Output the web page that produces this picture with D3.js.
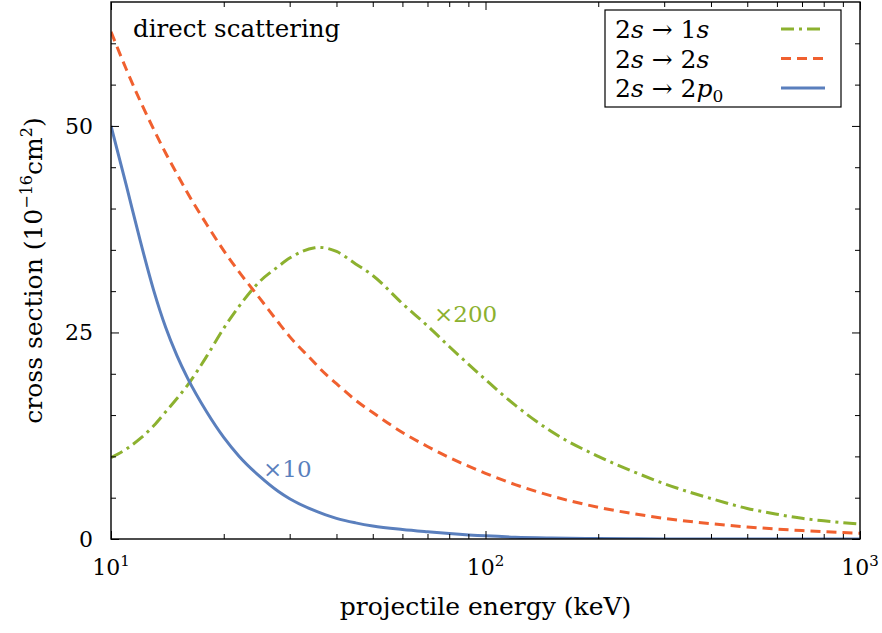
<!DOCTYPE html>
<html>
<head>
<meta charset="utf-8">
<script src="https://cdn.jsdelivr.net/npm/d3@7"></script>
<style>
  body { margin: 0; background: #fff; }
  svg text { font-family: "DejaVu Serif", serif; fill: #000; }
</style>
</head>
<body>
<div id="chart"></div>
<script>
// (DATA) projectile energies in keV
var energies = [10, 11, 12, 13, 14, 15, 16, 18, 20, 22, 25, 28, 30, 35, 36, 40, 45, 50, 60, 70, 80,
                100, 120, 150, 200, 250, 300, 400, 500, 600, 700, 800, 1000];
// 2s -> 1s, multiplied by 200
var sigma1s = [9.85, 10.9, 12.2, 13.7, 15.4, 17.0, 18.6, 22.1, 25.5, 28.2, 31.2, 33.0, 34.0, 35.25, 35.3, 34.8, 33.3, 31.9,
               28.5, 25.8, 23.3, 19.3, 16.2, 13.0, 10.0, 8.1, 6.7, 4.9, 3.7, 3.0, 2.5, 2.2, 1.8];
// 2s -> 2s
var sigma2s = [61.4, 56.8, 52.9, 49.6, 46.7, 44.2, 41.9, 38.1, 34.9, 32.3, 29.1, 26.2, 24.5, 21.3, 20.7, 18.8, 16.8, 15.3,
               12.9, 11.2, 9.87, 7.95, 6.59, 5.21, 3.84, 3.04, 2.50, 1.85, 1.46, 1.20, 1.02, 0.89, 0.70];
// 2s -> 2p0, multiplied by 10
var sigma2p0 = [50, 42.7, 35.9, 30.1, 25.6, 22.2, 19.5, 15.4, 12.3, 10.0, 7.55, 5.75, 4.87, 3.43, 3.22, 2.5, 1.95, 1.57,
                1.15, 0.88, 0.67, 0.38, 0.22, 0.12, 0.05, 0.025, 0.015, 0.006, 0.003, 0.002, 0.001, 0.001, 0.0];

var seriesNames = ["2s → 1s", "2s → 2s", "2s → 2p0"];
var xMajor = [10, 100, 1000];
var xMinor = [20, 30, 40, 50, 60, 70, 80, 90, 200, 300, 400, 500, 600, 700, 800, 900];
var yMajor = [0, 25, 50];
var yMinor = [5, 10, 15, 20, 30, 35, 40, 45, 55, 60];

function init() {
    // (SVG) sizes
    var w = 882, h = 633;
    var pLeft = 111, pRight = 860, pTop = 2, pBottom = 539;

    var colGreen = "#8cb12f", colOrange = "#f0602f", colBlue = "#5a7fbd";

    var svg = d3.select("#chart").append("svg")
        .attr("width", w)
        .attr("height", h);

    // (SCALES)
    var x = d3.scaleLog().domain([10, 1000]).range([pLeft, pRight]);
    var y = d3.scaleLinear().domain([0, 65]).range([pBottom, pTop]);

    svg.append("clipPath").attr("id", "plotclip")
        .append("rect")
        .attr("x", pLeft).attr("y", pTop)
        .attr("width", pRight - pLeft).attr("height", pBottom - pTop);

    // (LINES)
    var line = d3.line()
        .x(function(d) { return x(d[0]); })
        .y(function(d) { return y(d[1]); })
        .curve(d3.curveMonotoneX);

    var series = [
        { values: sigma1s, color: colGreen, dash: "13,5,3,5" },
        { values: sigma2s, color: colOrange, dash: "10,6" },
        { values: sigma2p0, color: colBlue, dash: null }
    ];

    var plot = svg.append("g").attr("clip-path", "url(#plotclip)");
    series.forEach(function(s) {
        plot.append("path")
            .datum(energies.map(function(e, i) { return [e, s.values[i]]; }))
            .attr("d", line)
            .attr("fill", "none")
            .attr("stroke", s.color)
            .attr("stroke-width", 3)
            .attr("stroke-dasharray", s.dash);
    });

    // (AXES) ticks pointing inside on all four sides
    function styleAxis(g) {
        g.select(".domain").remove();
        g.selectAll("line").attr("stroke", "#000").attr("stroke-width", 1);
    }
    svg.append("g").attr("transform", "translate(0," + pBottom + ")")
        .call(d3.axisBottom(x).tickValues(xMajor).tickSize(-8).tickFormat("")).call(styleAxis);
    svg.append("g").attr("transform", "translate(0," + pBottom + ")")
        .call(d3.axisBottom(x).tickValues(xMinor).tickSize(-5).tickFormat("")).call(styleAxis);
    svg.append("g").attr("transform", "translate(0," + pTop + ")")
        .call(d3.axisTop(x).tickValues(xMajor).tickSize(-8).tickFormat("")).call(styleAxis);
    svg.append("g").attr("transform", "translate(0," + pTop + ")")
        .call(d3.axisTop(x).tickValues(xMinor).tickSize(-5).tickFormat("")).call(styleAxis);
    svg.append("g").attr("transform", "translate(" + pLeft + ",0)")
        .call(d3.axisLeft(y).tickValues(yMajor).tickSize(-8).tickFormat("")).call(styleAxis);
    svg.append("g").attr("transform", "translate(" + pLeft + ",0)")
        .call(d3.axisLeft(y).tickValues(yMinor).tickSize(-5).tickFormat("")).call(styleAxis);
    svg.append("g").attr("transform", "translate(" + pRight + ",0)")
        .call(d3.axisRight(y).tickValues(yMajor).tickSize(-8).tickFormat("")).call(styleAxis);
    svg.append("g").attr("transform", "translate(" + pRight + ",0)")
        .call(d3.axisRight(y).tickValues(yMinor).tickSize(-5).tickFormat("")).call(styleAxis);

    // frame
    svg.append("rect")
        .attr("x", pLeft).attr("y", pTop)
        .attr("width", pRight - pLeft).attr("height", pBottom - pTop)
        .attr("fill", "none").attr("stroke", "#000").attr("stroke-width", 1.4);

    // (TICK LABELS)
    svg.selectAll(".ylab").data(yMajor).enter().append("text")
        .attr("class", "ylab")
        .attr("x", pLeft - 18)
        .attr("y", function(d) { return y(d) + 8; })
        .attr("text-anchor", "end")
        .attr("font-size", 22)
        .text(function(d) { return d; });

    var xl = svg.selectAll(".xlab").data(xMajor).enter().append("text")
        .attr("class", "xlab")
        .attr("x", function(d) { return x(d); })
        .attr("y", 575)
        .attr("text-anchor", "middle")
        .attr("font-size", 22);
    xl.append("tspan").text("10");
    xl.append("tspan").attr("dy", -9).attr("font-size", 15)
        .text(function(d) { return Math.round(Math.log10(d)); });

    // (AXIS TITLES)
    svg.append("text")
        .attr("x", (pLeft + pRight) / 2)
        .attr("y", 615)
        .attr("text-anchor", "middle")
        .attr("font-size", 25)
        .text("projectile energy (keV)");

    var yt = svg.append("text")
        .attr("transform", "translate(42," + ((pTop + pBottom) / 2) + ") rotate(-90)")
        .attr("text-anchor", "middle")
        .attr("font-size", 25);
    yt.append("tspan").text("cross section (10");
    yt.append("tspan").attr("dy", -10).attr("font-size", 16).text("−16");
    yt.append("tspan").attr("dy", 10).text("cm");
    yt.append("tspan").attr("dy", -10).attr("font-size", 16).text("2");
    yt.append("tspan").attr("dy", 10).text(")");

    // (ANNOTATIONS)
    svg.append("text").attr("x", 133).attr("y", 37).attr("font-size", 24.5).text("direct scattering");
    svg.append("text").attr("x", 434).attr("y", 322).attr("font-size", 23)
        .style("fill", colGreen).text("×200");
    svg.append("text").attr("x", 263).attr("y", 477).attr("font-size", 23)
        .style("fill", colBlue).text("×10");

    // (LEGEND)
    var legend = svg.append("g");
    legend.append("rect")
        .attr("x", 605).attr("y", 10).attr("width", 236).attr("height", 97)
        .attr("fill", "#fff").attr("stroke", "#000").attr("stroke-width", 1.2);
    var legY = d3.scalePoint().domain(seriesNames).range([29, 88]);
    seriesNames.forEach(function(name, i) {
        var t = legend.append("text")
            .attr("x", 615).attr("y", legY(name) + 9)
            .attr("font-size", 25);
        t.append("tspan").text("2");
        t.append("tspan").attr("font-style", "italic").text("s");
        t.append("tspan").text(" → ");
        if (i === 0) {
            t.append("tspan").text("1");
            t.append("tspan").attr("font-style", "italic").text("s");
        } else if (i === 1) {
            t.append("tspan").text("2");
            t.append("tspan").attr("font-style", "italic").text("s");
        } else {
            t.append("tspan").text("2");
            t.append("tspan").attr("font-style", "italic").text("p");
            t.append("tspan").attr("dy", 5).attr("font-size", 17).text("0");
        }
        legend.append("line")
            .attr("x1", 781).attr("x2", 825)
            .attr("y1", legY(name)).attr("y2", legY(name))
            .attr("stroke", series[i].color)
            .attr("stroke-width", 3)
            .attr("stroke-dasharray", series[i].dash);
    });
}

window.onload = init;
</script>
</body>
</html>
